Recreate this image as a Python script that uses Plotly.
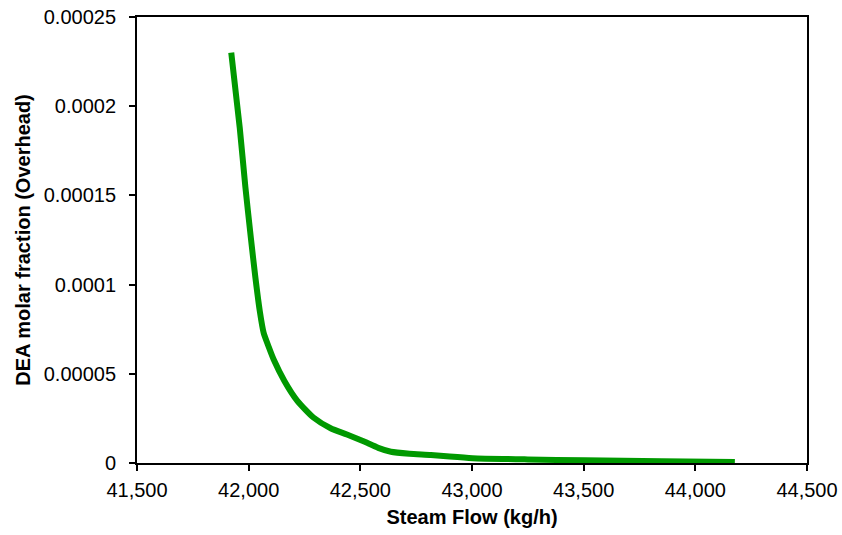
import plotly.graph_objects as go

steam_flow = [41922, 41960, 41985, 42010, 42030, 42050, 42067, 42090, 42112, 42160, 42217, 42290, 42367, 42440, 42517, 42580, 42637, 42720, 42816, 42900, 43003, 43250, 43503, 43850, 44177]
dea_fraction = [2.30e-4, 1.88e-4, 1.55e-4, 1.26e-4, 1.04e-4, 8.5e-5, 7.3e-5, 6.5e-5, 5.8e-5, 4.6e-5, 3.5e-5, 2.55e-5, 1.95e-5, 1.6e-5, 1.2e-5, 8.5e-6, 6.3e-6, 5.2e-6, 4.5e-6, 3.6e-6, 2.7e-6, 2.0e-6, 1.5e-6, 1.0e-6, 5e-7]

x_ticks = [41500, 42000, 42500, 43000, 43500, 44000, 44500]
x_tick_labels = ["41,500", "42,000", "42,500", "43,000", "43,500", "44,000", "44,500"]
y_ticks = [0, 0.00005, 0.0001, 0.00015, 0.0002, 0.00025]
y_tick_labels = ["0", "0.00005", "0.0001", "0.00015", "0.0002", "0.00025"]

fig = go.Figure()
fig.add_trace(go.Scatter(
    x=steam_flow, y=dea_fraction, mode="lines",
    line=dict(color="#009900", width=6, shape="spline", smoothing=0.6),
    showlegend=False,
))

font_family = "Liberation Sans, Arial, sans-serif"
fig.update_layout(
    width=842, height=535,
    margin=dict(l=137, r=35, t=17, b=72),
    paper_bgcolor="white", plot_bgcolor="white",
    font=dict(family=font_family, size=20, color="black"),
)
fig.update_xaxes(
    range=[41500, 44500], tickvals=x_ticks, ticktext=x_tick_labels,
    showgrid=False, zeroline=False, automargin=False,
    showline=True, linecolor="black", linewidth=2, mirror=True,
    ticks="outside", ticklen=6, tickwidth=2, tickcolor="black",
    ticklabelstandoff=2, ticklabeloverflow="allow",
    title=dict(text="<b>Steam Flow (kg/h)</b>", font=dict(size=20), standoff=10),
)
fig.update_yaxes(
    range=[0, 0.00025], tickvals=y_ticks, ticktext=y_tick_labels,
    showgrid=False, zeroline=False, automargin=False,
    showline=True, linecolor="black", linewidth=2, mirror=True,
    ticks="outside", ticklen=6, tickwidth=2, tickcolor="black",
    ticklabelstandoff=9, ticklabeloverflow="allow",
    title=dict(text="<b>DEA molar fraction (Overhead)</b>", font=dict(size=20), standoff=8),
)

fig.write_html(
    "out.html",
    config={"displayModeBar": False},
    post_script="document.body.style.margin='0px';document.body.style.overflow='hidden';",
)
